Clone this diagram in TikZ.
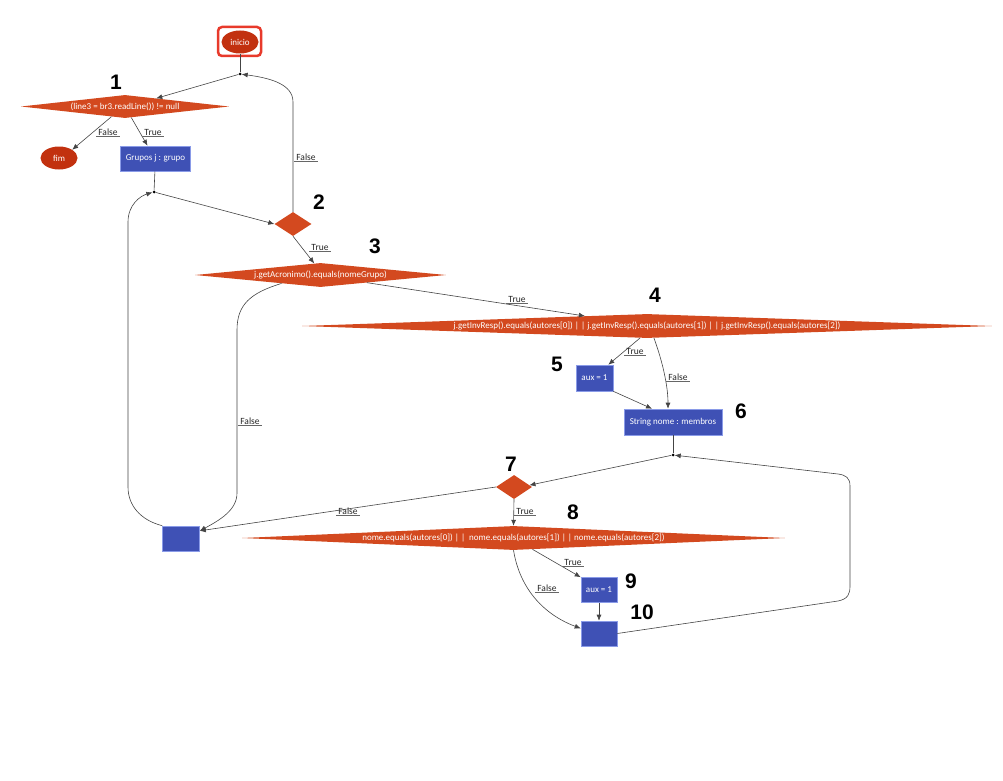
\documentclass[tikz,border=0pt]{standalone}
\usepackage{fontspec}
\setmainfont{Carlito}
\newfontfamily\handfont{Liberation Sans}
\usetikzlibrary{shapes.geometric,arrows.meta,calc}
\definecolor{dorange}{HTML}{D3491F}
\definecolor{dred}{HTML}{C2310F}
\definecolor{bblue}{HTML}{3F51B5}
\definecolor{bborder}{HTML}{8A9BE8}
\definecolor{startred}{HTML}{E83A2B}
\definecolor{edgec}{HTML}{444444}
\begin{document}
\begin{tikzpicture}[x=1pt,y=-1pt,
  every node/.style={font=\fontsize{9}{10}\selectfont},
  dia/.style={diamond, fill=dorange, inner sep=0pt, text=white},
  term/.style={ellipse, fill=dred, inner sep=0pt, text=white, minimum width=37pt, minimum height=23pt},
  act/.style={rectangle, fill=bblue, draw=bborder, line width=0.6pt, inner sep=0pt, text=white},
  junc/.style={circle, fill=black, inner sep=0pt, minimum size=3pt},
  flow/.style={draw=edgec, line width=0.6pt},
  arr/.style={flow, -{Latex[length=6pt,width=5pt]}},
  lab/.style={text=black!85, inner xsep=2pt, inner ysep=1pt, font=\fontsize{9.5}{10}\selectfont},
  labline/.style={draw=gray!80!black, line width=0.7pt},
  num/.style={font=\handfont\bfseries\fontsize{21}{21}\selectfont}
]
\useasboundingbox (0,0) rectangle (1003,781);

% nodes
\node[term] (inicio) at (240,42) {inicio};
\node[draw=startred, line width=2.5pt, rounded corners=4pt, minimum width=43pt, minimum height=29pt] (sel) at (239.5,41.5) {};
\node[junc] (j1) at (240,74) {};
\node[dia, minimum width=208pt, minimum height=23pt] (d1) at (125,106.5) {\makebox[0pt]{(line3 = br3.readLine()) != null}};
\node[term] (fim) at (59,158) {fim};
\node[act, minimum width=70pt, minimum height=25pt] (grupos) at (155.5,158.5) {Grupos j : grupo};
\node[junc] (j2) at (154,192) {};
\node[dia, minimum width=37pt, minimum height=24pt] (d2) at (293,224) {};
\node[dia, minimum width=251pt, minimum height=24pt] (d3) at (320.5,275) {\makebox[0pt]{j.getAcronimo().equals(nomeGrupo)}};
\node[dia, minimum width=690pt, minimum height=24pt] (d4) at (647,326) {\makebox[0pt]{j.getInvResp().equals(autores[0]) | | j.getInvResp().equals(autores[1]) | | j.getInvResp().equals(autores[2])}};
\node[act, minimum width=37pt, minimum height=26pt] (aux5) at (594.5,378) {aux = 1};
\node[act, minimum width=98pt, minimum height=26pt] (membros) at (673,422) {String nome : membros};
\node[junc] (j3) at (673,455) {};
\node[dia, minimum width=36pt, minimum height=24pt] (d7) at (514,487) {};
\node[dia, minimum width=543pt, minimum height=24pt] (d8) at (513.5,538) {\makebox[0pt]{nome.equals(autores[0]) | |\ \ nome.equals(autores[1]) | | nome.equals(autores[2])}};
\node[act, minimum width=37pt, minimum height=25pt] (b1) at (181,538.5) {};
\node[act, minimum width=36pt, minimum height=25pt] (aux9) at (599,590) {aux = 1};
\node[act, minimum width=36pt, minimum height=25pt] (b10) at (599,633.5) {};

% connectors
\draw[flow] (inicio) -- (j1);
\draw[arr] (j1) -- ($(d1.north)!0.3!(d1.east)$);
\draw[arr] ($(d1.south)!0.13!(d1.west)$) -- (fim.north east);
\draw[arr] ($(d1.south)!0.06!(d1.east)$) -- ([xshift=-8pt]grupos.north);
\draw[flow] (grupos) -- (j2);
\draw[arr] (j2) -- (d2.west);
\draw[arr] (d2.north) -- (293,102) .. controls (293,84) and (270,78) .. (j1);
\draw[arr] (d2.south) -- ($(d3.north)!0.05!(d3.west)$);
\draw[arr] ($(d3.south)!0.31!(d3.west)$) .. controls (250,293) and (237,305) .. (237,330) -- (237,493) .. controls (237,510) and (220,520) .. ($(b1.north east)!0.2!(b1.south east)$);
\draw[arr] (b1.north west) .. controls (140,520) and (128,505) .. (128,487) -- (128,222) .. controls (128,205) and (140,196) .. (j2);
\draw[arr] ($(d3.south)!0.37!(d3.east)$) -- ($(d4.north)!0.18!(d4.west)$);
\draw[arr] ($(d4.south)!0.02!(d4.west)$) -- ([xshift=-5pt]aux5.north east);
\draw[arr] ($(d4.south)!0.02!(d4.east)$) .. controls (662,360) and (668,385) .. ([xshift=-5pt]membros.north);
\draw[arr] (aux5.south east) -- ([xshift=-21pt]membros.north);
\draw[flow] (membros) -- (j3);
\draw[arr] (j3) -- ($(d7.north)!0.85!(d7.east)$);
\draw[arr] (d7.west) -- ($(b1.north east)!0.2!(b1.south east)$);
\draw[arr] (d7.south) -- (d8.north);
\draw[arr] ($(d8.south)!0.07!(d8.east)$) -- (aux9.north west);
\draw[arr] (d8.south) .. controls (520,590) and (545,615) .. ($(b10.north west)!0.3!(b10.south west)$);
\draw[arr] (aux9) -- (b10);
\draw[arr] (b10.east) -- (838,601) .. controls (848,599) and (850,594) .. (850,586) -- (850,486) .. controls (850,478) and (846,475) .. (838,474) -- (j3);

% edge labels
\node[lab] (l1) at (108,132) {False}; \draw[labline] (l1.south west) -- (l1.south east);
\node[lab] (l2) at (153,132) {True}; \draw[labline] (l2.south west) -- (l2.south east);
\node[lab] (l3) at (306,157) {False}; \draw[labline] (l3.south west) -- (l3.south east);
\node[lab] (l4) at (320,247) {True}; \draw[labline] (l4.south west) -- (l4.south east);
\node[lab] (l5) at (250,421) {False}; \draw[labline] (l5.south west) -- (l5.south east);
\node[lab] (l6) at (517,299) {True}; \draw[labline] (l6.south west) -- (l6.south east);
\node[lab] (l7) at (635,351) {True}; \draw[labline] (l7.south west) -- (l7.south east);
\node[lab] (l8) at (678,377) {False}; \draw[labline] (l8.south west) -- (l8.south east);
\node[lab] (l9) at (348,511) {False}; \draw[labline] (l9.south west) -- (l9.south east);
\node[lab] (l10) at (525,511) {True}; \draw[labline] (l10.south west) -- (l10.south east);
\node[lab] (l11) at (573,562) {True}; \draw[labline] (l11.south west) -- (l11.south east);
\node[lab] (l12) at (547,588) {False}; \draw[labline] (l12.south west) -- (l12.south east);

% handwritten numbers
\node[num] (n1) at (116,82) {1};
\node[num] (n2) at (319,202) {2};
\node[num] (n3) at (375,246) {3};
\node[num] (n4) at (655,295) {4};
\node[num] (n5) at (557,364) {5};
\node[num] (n6) at (741,411) {6};
\node[num] (n7) at (511,464) {7};
\node[num] (n8) at (573,512) {8};
\node[num] (n9) at (631,581) {9};
\node[num] (n10) at (642,612) {10};
\end{tikzpicture}
\end{document}
